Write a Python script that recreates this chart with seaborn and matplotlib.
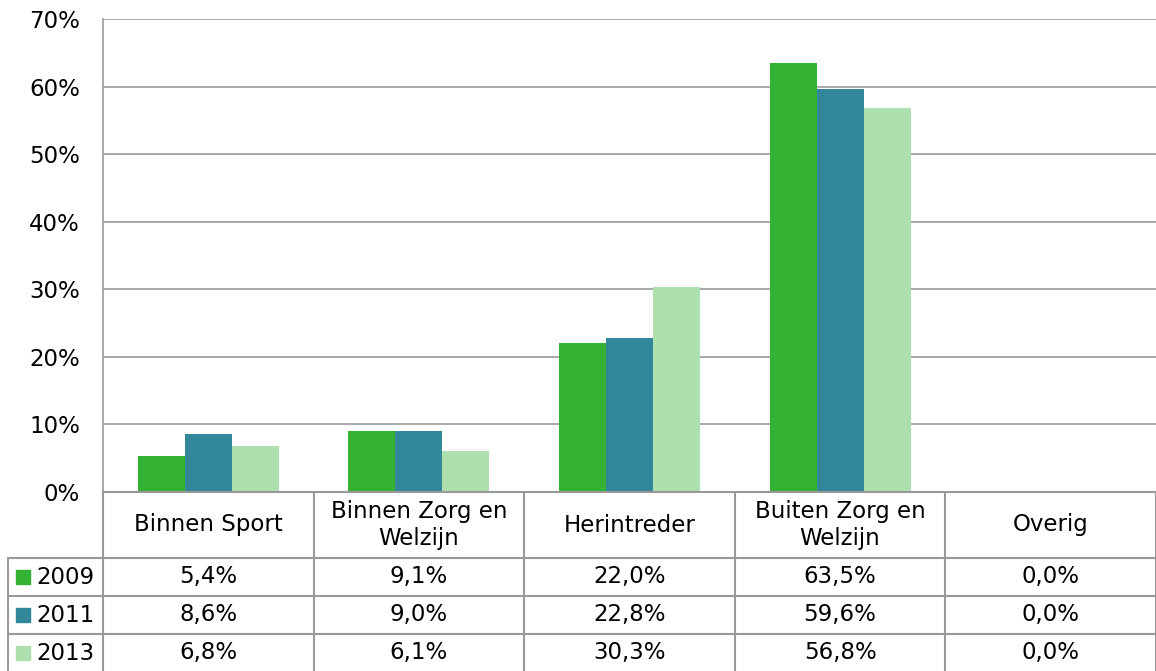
import numpy as np
import pandas as pd
import seaborn as sns
import matplotlib.pyplot as plt

categories = ["Binnen Sport", "Binnen Zorg en\nWelzijn", "Herintreder", "Buiten Zorg en\nWelzijn", "Overig"]
years = ["2009", "2011", "2013"]
v2009 = [5.4, 9.1, 22.0, 63.5, 0.0]
v2011 = [8.6, 9.0, 22.8, 59.6, 0.0]
v2013 = [6.8, 6.1, 30.3, 56.8, 0.0]
colors = ["#33B233", "#33879B", "#AEDFAE"]
yticks = [0, 10, 20, 30, 40, 50, 60, 70]

series = [v2009, v2011, v2013]
df = pd.DataFrame({
    "cat": np.repeat([categories], 3, axis=0).ravel(),
    "year": np.repeat(years, len(categories)),
    "val": np.concatenate(series),
})

sns.set_style("white")
plt.rcParams['font.family'] = ['DejaVu Sans']
plt.rcParams['text.color'] = 'black'
plt.rcParams['ytick.color'] = 'black'
FS = 16.5
GRID = "#999999"

W, H = 1156, 671
fig = plt.figure(figsize=(W / 100, H / 100), dpi=100)
left_px, right_px, top_px, bot_px = 103, 1156, 19, 492
ax = fig.add_axes([left_px / W, (H - bot_px) / H, (right_px - left_px) / W, (bot_px - top_px) / H])

sns.barplot(data=df, x="cat", y="val", hue="year", palette=colors, width=0.67,
            saturation=1, ax=ax, legend=False, errorbar=None, linewidth=0, edgecolor="none")
ax.set_ylim(0, 70)
ax.set_xlim(-0.5, len(categories) - 0.5)
ax.set_yticks(yticks)
ax.set_yticklabels([f"{t}%" for t in yticks], fontsize=FS, color="black")
ax.tick_params(axis="y", length=0, pad=16.5)
ax.set_xticks([])
ax.set_xlabel("")
ax.set_ylabel("")
for t in yticks[1:]:
    ax.axhline(t, color=GRID, lw=1.2, zorder=0)
for s in ["top", "right", "bottom"]:
    ax.spines[s].set_visible(False)
ax.spines["left"].set_color(GRID)
ax.spines["left"].set_linewidth(1.2)

# data table
tab_h = H - bot_px
tax = fig.add_axes([left_px / W, 0, (right_px - left_px) / W, tab_h / H], sharex=ax)
tax.set_ylim(tab_h, 0)
tax.axis("off")
unit = (right_px - left_px) / len(categories)
x_left = -0.5 - (left_px - 8) / unit
head_h = 66
row_h = 38
n = len(categories)
tax.plot([-0.5, n - 0.5], [0, 0], color=GRID, lw=1.5, clip_on=False)
for i in range(len(years)):
    y = head_h + i * row_h
    tax.plot([x_left, n - 0.5], [y, y], color=GRID, lw=1.5, clip_on=False)
for i in range(n + 1):
    tax.plot([i - 0.5, i - 0.5], [0, tab_h], color=GRID, lw=1.5, clip_on=False)
tax.plot([x_left, x_left], [head_h, tab_h], color=GRID, lw=1.5, clip_on=False)

for i, c in enumerate(categories):
    tax.text(i, head_h / 2, c, ha="center", va="center", fontsize=FS, linespacing=1.25, color="black")
for r, (yr, vals, col) in enumerate(zip(years, series, colors)):
    yc = head_h + r * row_h + row_h / 2
    sq_x = x_left + 15 / unit
    tax.plot([sq_x], [yc], marker="s", markersize=10, color=col, clip_on=False, lw=0)
    tax.text(x_left + 28 / unit, yc, yr, ha="left", va="center", fontsize=FS, color="black")
    for i, v in enumerate(vals):
        tax.text(i, yc, f"{v:.1f}%".replace(".", ","), ha="center", va="center", fontsize=FS, color="black")

fig.savefig("out.png", dpi=100)
